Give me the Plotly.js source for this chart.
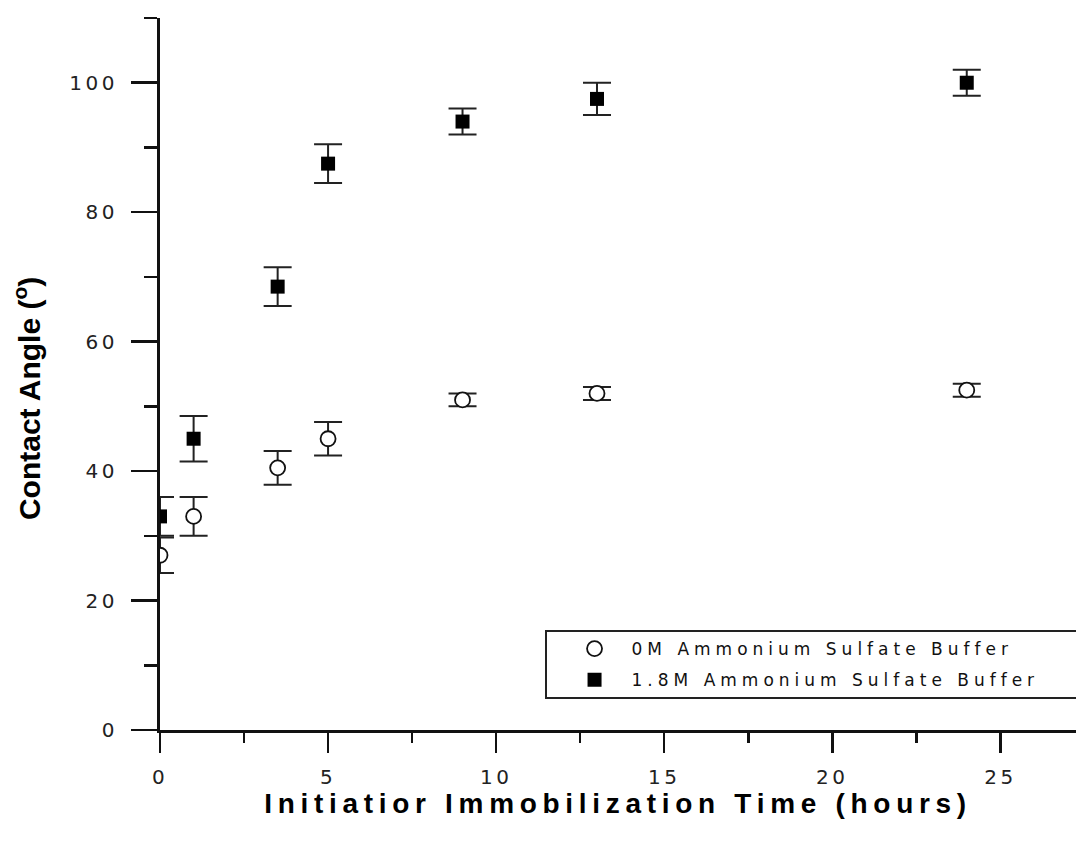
<!DOCTYPE html>
<html>
<head>
<meta charset="utf-8">
<script src="https://cdn.plot.ly/plotly-3.0.1.min.js"></script>
<style>
  html, body { margin: 0; padding: 0; background: #fff; }
  #chart { width: 1076px; height: 844px; }
  /* wide, spaced-out lettering of the plotting package */
  .xtick text, .ytick text { letter-spacing: 3.5px; }
  .legendtext { letter-spacing: 5px; }
  .g-xtitle text { letter-spacing: 5.7px; }
</style>
</head>
<body>
<div id="chart"></div>
<script>
// Immobilization time (hours)
const hours = [0, 1, 3.5, 5, 9, 13, 24];

// Contact angle (degrees), mean and standard deviation
const angle0M = [27, 33, 40.5, 45, 51, 52, 52.5];
const err0M   = [2.75, 3, 2.6, 2.6, 1, 1, 1];

const angle18M = [33, 45, 68.5, 87.5, 94, 97.5, 100];
const err18M   = [3, 3.5, 3, 3, 2, 2.5, 2];

const seriesNames = ['0M Ammonium Sulfate Buffer', '1.8M Ammonium Sulfate Buffer'];

const traces = [
  {
    x: hours, y: angle0M, name: seriesNames[0], legendgroup: 'a',
    type: 'scatter', mode: 'markers',
    marker: { symbol: 'circle', size: 15, color: '#ffffff', line: { color: '#111', width: 1.8 } },
    error_y: { type: 'data', array: err0M, visible: true, color: '#222', thickness: 2, width: 14 }
  },
  {
    x: hours, y: angle18M, name: seriesNames[1], legendgroup: 'b',
    type: 'scatter', mode: 'markers',
    marker: { symbol: 'square', size: 14, color: '#000', line: { width: 0 } },
    error_y: { type: 'data', array: err18M, visible: true, color: '#222', thickness: 2, width: 14 }
  }
];

const tickFont = { family: 'DejaVu Sans, Arial, sans-serif', size: 20, color: '#222' };

const layout = {
  width: 1076, height: 844,
  margin: { l: 160, r: 0, t: 18, b: 114 },
  paper_bgcolor: '#fff', plot_bgcolor: '#fff',
  showlegend: true,
  legend: {
    x: 0.434, xanchor: 'left', y: 0.139, yanchor: 'top',
    bgcolor: 'rgba(0,0,0,0)', borderwidth: 0, itemwidth: 64,
    font: { family: 'DejaVu Sans, Arial, sans-serif', size: 17, color: '#111' },
    tracegroupgap: 6
  },
  xaxis: {
    range: [0, 27.25], showgrid: false, zeroline: false,
    showline: true, linecolor: '#111', linewidth: 2.5,
    ticks: 'outside', ticklen: 20, tickwidth: 2.5, tickcolor: '#111',
    dtick: 5, tick0: 0, tickfont: tickFont, ticklabelstandoff: 7,
    minor: { dtick: 2.5, tick0: 0, ticks: 'outside', ticklen: 10, tickwidth: 2.5, tickcolor: '#111', showgrid: false },
    title: {
      text: 'Initiatior Immobilization Time (hours)',
      font: { family: 'Liberation Sans, Arial, sans-serif', size: 28, weight: 'bold', color: '#000' },
      standoff: 0
    }
  },
  yaxis: {
    range: [0, 110], showgrid: false, zeroline: false,
    showline: true, linecolor: '#111', linewidth: 3,
    ticks: 'outside', ticklen: 26, tickwidth: 2.5, tickcolor: '#111',
    dtick: 20, tick0: 0, tickfont: tickFont, ticklabelstandoff: 9,
    minor: { dtick: 10, tick0: 0, ticks: 'outside', ticklen: 13, tickwidth: 2.5, tickcolor: '#111', showgrid: false }
  },
  shapes: [
    {
      type: 'rect', xref: 'paper', yref: 'paper',
      x0: 0.4214, x1: 1.02, y0: 0.045, y1: 0.139,
      line: { color: '#222', width: 2 }, fillcolor: 'rgba(0,0,0,0)'
    }
  ],
  annotations: [
    {
      text: 'Contact Angle (<sup>o</sup>)',
      xref: 'paper', yref: 'paper', x: -0.145, y: 0.465,
      xanchor: 'center', yanchor: 'middle', textangle: -90, showarrow: false,
      font: { family: 'Liberation Sans, Arial, sans-serif', size: 30, weight: 'bold', color: '#000' }
    }
  ]
};

Plotly.newPlot('chart', traces, layout, { displayModeBar: false, staticPlot: true });
</script>
</body>
</html>
